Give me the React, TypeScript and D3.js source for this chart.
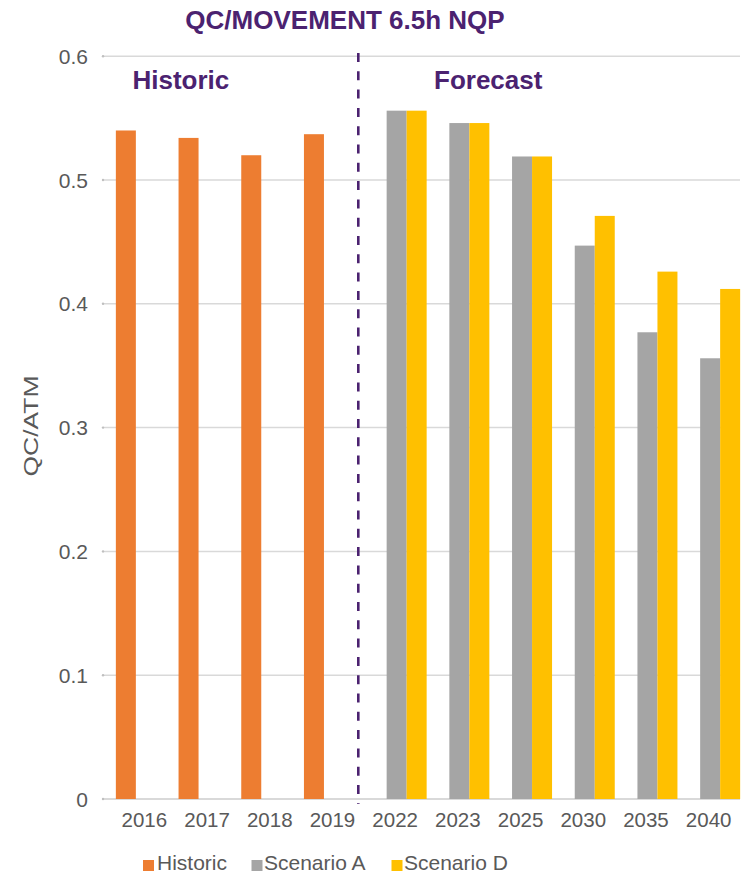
import React, { useEffect } from 'react';
import * as d3 from 'd3';

const years = ['2016', '2017', '2018', '2019', '2022', '2023', '2025', '2030', '2035', '2040'];
const seriesNames = ['Historic', 'Scenario A', 'Scenario D'];
const historic = [0.54, 0.534, 0.52, 0.537, null, null, null, null, null, null];
const scenarioA = [null, null, null, null, 0.556, 0.546, 0.519, 0.447, 0.377, 0.356];
const scenarioD = [null, null, null, null, 0.556, 0.546, 0.519, 0.471, 0.426, 0.412];
const yTicks = [0, 0.1, 0.2, 0.3, 0.4, 0.5, 0.6];
const colors = ['#ED7D31', '#A5A5A5', '#FFC000'];

const purple = '#4B2270';
const grey = '#595959';
const font = '"Liberation Sans", Arial, sans-serif';

const App: React.FC = () => {
  useEffect(() => {
    document.body.style.margin = '0';
  }, []);

  const width = 746;
  const height = 874;

  const xScale = d3.scaleBand<string>().domain(years).range([114.5, 741.5]);
  const x1 = d3.scaleBand<string>()
    .domain(seriesNames)
    .range([0, xScale.bandwidth()])
    .paddingOuter(0.0675);
  const yScale = d3.scaleLinear().domain([0, 0.6]).range([799, 56.2]);

  const allSeries = [historic, scenarioA, scenarioD];
  const dividerX = xScale('2022')! - 7;

  // legend layout
  const legendItems = [
    { name: seriesNames[0], sq: 143, tx: 157 },
    { name: seriesNames[1], sq: 251.5, tx: 264 },
    { name: seriesNames[2], sq: 391.5, tx: 404 },
  ];

  return (
    <svg width={width} height={height} style={{ display: 'block' }} fontFamily={font}>
      {/* gridlines */}
      {yTicks.map((t) => (
        <g key={t}>
          <line
            x1={103}
            x2={740}
            y1={yScale(t)}
            y2={yScale(t)}
            stroke="#D9D9D9"
            strokeWidth={t === 0 ? 2 : 1.5}
          />
          <circle cx={103} cy={yScale(t)} r={1.2} fill="#BFBFBF" />
          <text
            x={88}
            y={yScale(t)}
            textAnchor="end"
            dominantBaseline="central"
            fontSize={21}
            fill={grey}
          >
            {t === 0 ? '0' : t.toFixed(1)}
          </text>
        </g>
      ))}

      {/* bars */}
      {allSeries.map((vals, si) =>
        vals.map((v, i) =>
          v == null ? null : (
            <rect
              key={`${si}-${i}`}
              x={xScale(years[i])! + x1(seriesNames[si])!}
              y={yScale(v)}
              width={x1.bandwidth()}
              height={yScale(0) - yScale(v)}
              fill={colors[si]}
            />
          )
        )
      )}

      {/* x labels */}
      {years.map((yr) => (
        <text
          key={yr}
          x={xScale(yr)! + xScale.bandwidth() / 2 - 1.5}
          y={827}
          textAnchor="middle"
          fontSize={20.5}
          fill={grey}
        >
          {yr}
        </text>
      ))}

      {/* divider */}
      <line
        x1={dividerX}
        x2={dividerX}
        y1={53}
        y2={804}
        stroke={purple}
        strokeWidth={2.6}
        strokeDasharray="9,9.3"
      />

      {/* titles */}
      <text x={345} y={29} textAnchor="middle" fontSize={26} fontWeight="bold" fill={purple}>
        QC/MOVEMENT 6.5h NQP
      </text>
      <text x={132.5} y={89} fontSize={26} fontWeight="bold" fill={purple}>
        Historic
      </text>
      <text x={434} y={89} fontSize={26} fontWeight="bold" fill={purple}>
        Forecast
      </text>

      {/* y axis title */}
      <text
        transform={`translate(38, ${(375 + 477) / 2}) rotate(-90)`}
        textAnchor="middle"
        fontSize={21}
        textLength={101}
        lengthAdjust="spacingAndGlyphs"
        fill={grey}
      >
        QC/ATM
      </text>

      {/* legend */}
      {legendItems.map((d, i) => (
        <g key={d.name}>
          <rect x={d.sq} y={860} width={11} height={11} fill={colors[i]} />
          <text x={d.tx} y={869.5} fontSize={21} fill={grey}>
            {d.name}
          </text>
        </g>
      ))}
    </svg>
  );
};

export default App;
